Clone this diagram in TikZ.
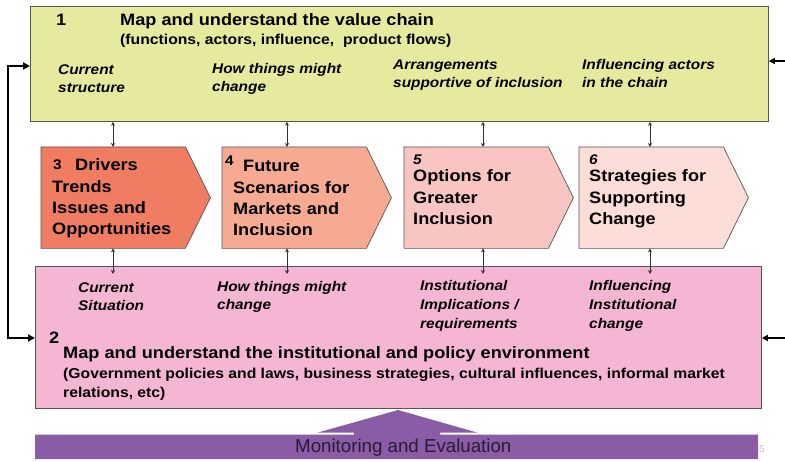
\documentclass[tikz,border=0pt]{standalone}
\usepackage{fontspec}
\setmainfont{Liberation Sans}[FakeStretch=1.1]
\newfontfamily\plainfont{Liberation Sans}
\usetikzlibrary{arrows.meta}
\definecolor{topfill}{HTML}{E5EA9F}
\definecolor{botfill}{HTML}{F4B6D2}
\definecolor{chA}{HTML}{F07C62}
\definecolor{chB}{HTML}{F7AA92}
\definecolor{chC}{HTML}{F9C5C3}
\definecolor{chD}{HTML}{FCDDD7}
\definecolor{mepurple}{HTML}{8A5CA6}
\definecolor{edgegrey}{HTML}{555555}
\definecolor{metext}{HTML}{2A1A35}
\tikzset{
  bigbox/.style={draw=edgegrey, line width=0.8pt, anchor=north west, inner sep=0pt},
  chevbox/.style={anchor=north west, inner sep=0pt, minimum width=169pt, minimum height=101pt},
  chevline/.style={draw=edgegrey, line width=0.7pt},
  conn/.style={draw=black!80, line width=0.8pt, {Stealth[length=4pt,width=4pt]}-{Stealth[length=4pt,width=4pt]}},
  fbline/.style={draw=black, line width=2pt, {Triangle[length=7pt,width=7pt]}-{Triangle[length=7pt,width=7pt]}},
  sidearrow/.style={draw=black, line width=1.5pt, -{Triangle[length=6pt,width=6pt]}},
  txt/.style={anchor=base west, inner sep=0pt, align=left},
  lbl/.style={txt, font=\fontsize{14}{18}\selectfont\bfseries\itshape},
  lblb/.style={txt, font=\fontsize{14}{18.8}\selectfont\bfseries\itshape},
  ttl/.style={txt, font=\fontsize{16.5}{20}\selectfont\bfseries},
  sub/.style={txt, font=\fontsize{14.3}{19}\selectfont\bfseries},
  chev/.style={txt, font=\fontsize{16.5}{21.2}\selectfont\bfseries},
  num/.style={txt, font=\fontsize{14}{16}\selectfont\bfseries},
}
\begin{document}
\begin{tikzpicture}[x=1pt,y=-1pt]
\useasboundingbox (0,0) rectangle (785,462);
\fill[white] (0,0) rectangle (785,462);

% Monitoring and evaluation arrow
\fill[mepurple] (35,459) -- (35,434.5) -- (354,434.5) -- (354,432.5) -- (318,432.5) -- (398,410)
  -- (477,432.5) -- (440,432.5) -- (440,434.5) -- (758,434.5) -- (758,459) -- cycle;
\node[txt, font=\plainfont\fontsize{18.7}{20}\selectfont, text=metext] (me) at (295,453) {Monitoring and Evaluation};
\node[txt, font=\plainfont\fontsize{10}{12}\selectfont, text=black!25] (pg) at (759,452) {5};

% main boxes
\node[bigbox, fill=topfill, minimum width=738pt, minimum height=115pt] (vc) at (30,6) {};
\node[bigbox, fill=botfill, minimum width=726pt, minimum height=142pt] (bb) at (35,266) {};

% chevrons
\node[chevbox] (c1) at (41,147) {};
\node[chevbox] (c2) at (222,147) {};
\node[chevbox] (c3) at (404,147) {};
\node[chevbox] (c4) at (579,147) {};
\foreach \c/\f in {c1/chA, c2/chB, c3/chC, c4/chD}{
  \path[chevline, fill=\f] (\c.north west) -- ([xshift=-25pt]\c.north east) -- (\c.east)
    -- ([xshift=-25pt]\c.south east) -- (\c.south west) -- cycle;
}

% vertical connectors
\coordinate (k1) at (113,0);
\coordinate (k2) at (287,0);
\coordinate (k3) at (483,0);
\coordinate (k4) at (650,0);
\foreach \k/\c in {k1/c1, k2/c2, k3/c3, k4/c4}{
  \draw[conn] (vc.south -| \k) -- (\c.north -| \k);
  \draw[conn, shorten >=-8pt] (\c.south -| \k) -- (bb.north -| \k);
}

% feedback loop on the left
\coordinate (ftop) at (8,66);
\coordinate (fbot) at (8,338);
\draw[fbline] (vc.west |- ftop) -- (ftop) -- (fbot) -- (bb.west |- fbot);

% arrows from the right
\coordinate (rtop) at (785,61);
\coordinate (rbot) at (785,338);
\draw[sidearrow] (rtop) -- (vc.east |- rtop);
\draw[sidearrow] (rbot) -- (bb.east |- rbot);

% top box text (multi-line nodes are placed by their last baseline)
\node[ttl] (n1) at (56,26) {1};
\node[ttl] (t1) at (120,26) {Map and understand the value chain};
\node[sub] (s1) at (120,45) {(functions, actors, influence,\ \ product flows)};
\node[lbl] (a1) at (58,93) {Current\\structure};
\node[lbl] (a2) at (212,92) {How things might\\change};
\node[lbl] (a3) at (393,88) {Arrangements\\supportive of inclusion};
\node[lbl] (a4) at (582,88) {Influencing actors\\in the chain};

% chevron text
\node[num] (m3) at (53,170) {3};
\node[chev] (d1) at (52,234.6) {\hspace*{23pt}Drivers\\Trends\\Issues and\\Opportunities};
\node[num] (m4) at (225,166) {4};
\node[chev] (d2) at (233,235.6) {\hspace*{10pt}Future\\Scenarios for\\Markets and\\Inclusion};
\node[num, font=\fontsize{14}{16}\selectfont\bfseries\itshape] (m5) at (413,165) {5};
\node[chev] (d3) at (413,224.4) {Options for\\Greater\\Inclusion};
\node[num, font=\fontsize{14}{16}\selectfont\bfseries\itshape] (m6) at (589,165) {6};
\node[chev] (d4) at (589,224.4) {Strategies for\\Supporting\\Change};

% bottom box text
\node[lbl] (b1) at (78,311) {Current\\Situation};
\node[lbl] (b2) at (217,310) {How things might\\change};
\node[lblb] (b3) at (420,328.6) {Institutional\\Implications /\\requirements};
\node[lblb] (b4) at (589,328.6) {Influencing\\Institutional\\change};
\node[ttl] (n2) at (49,344) {2};
\node[ttl] (t2) at (63,359) {Map and understand the institutional and policy environment};
\node[sub] (s2) at (63,398) {(Government policies and laws, business strategies, cultural influences, informal market\\relations, etc)};
\end{tikzpicture}
\end{document}
